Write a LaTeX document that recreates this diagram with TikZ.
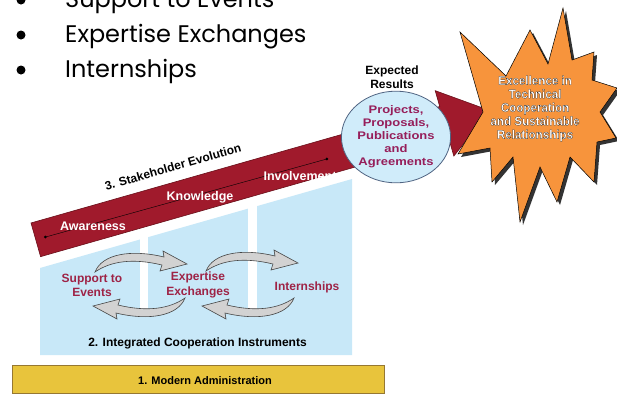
\documentclass[tikz,border=0pt]{standalone}
\usepackage{fontspec}
\setmainfont{Liberation Sans}
\newfontfamily\gothic{Poppins}
\usetikzlibrary{shapes.geometric}
\definecolor{bandred}{RGB}{160,26,44}
\definecolor{bandedge}{RGB}{105,15,25}
\definecolor{wine}{RGB}{158,35,70}
\definecolor{plum}{RGB}{150,30,90}
\definecolor{skyblue}{RGB}{200,232,248}
\definecolor{ellfill}{RGB}{208,236,250}
\definecolor{elledge}{RGB}{80,100,130}
\definecolor{goldbar}{RGB}{232,196,60}
\definecolor{goldedge}{RGB}{150,120,50}
\definecolor{starorange}{RGB}{247,148,60}
\newcommand{\outlinedtext}[1]{\special{pdf:literal direct 2 Tr 0.2 w 1 1 1 rg 0.1 0.1 0.1 RG}#1\special{pdf:literal direct 0 Tr}}
\begin{document}
\begin{tikzpicture}[x=1pt,y=-1pt,
  bandlbl/.style={text=white,font=\fontsize{12.5}{14}\selectfont\bfseries,inner sep=0},
  instlbl/.style={text=wine,font=\fontsize{12}{14.5}\selectfont\bfseries,align=center,inner sep=0},
  blacklbl/.style={text=black,font=\fontsize{12}{14}\selectfont\bfseries,inner sep=0},
  bullettext/.style={font=\gothic\fontsize{24}{27}\selectfont,anchor=base west,inner sep=0},
  bulletdot/.style={fill=black,circle,inner sep=0,minimum size=9pt},
  grayarrow/.style={fill=gray!35,draw=gray!55!black,line width=0.6pt},
  swoosh/.pic={\filldraw[grayarrow] (-46,14) .. controls (-39,-4) and (-10,-9) .. (23,-1) -- (22,-7) -- (46,6) -- (19,13) -- (21,7) .. controls (-8,0) and (-30,3) .. (-46,14) -- cycle;}
]
\clip (0,0) rectangle (617,394);
\fill[white] (0,0) rectangle (617,394);

% bullet list
\node[bulletdot] (b1) at (21,0) {};
\node[bullettext] (t1) at (65,7) {Support to Events};
\node[bulletdot] (b2) at (21,35) {};
\node[bullettext] (t2) at (65,42) {Expertise Exchanges};
\node[bulletdot] (b3) at (21,70) {};
\node[bullettext] (t3) at (65,77) {Internships};

% blue instruments area
\fill[skyblue] (40,268) -- (352,179) -- (352,355) -- (40,355) -- cycle;
\fill[white] (140,200) rectangle (148,316);
\fill[white] (248,180) rectangle (257,316);

% curved gray arrows
\pic at (141,258) {swoosh};
\pic at (252,257) {swoosh};
\pic[rotate=180] at (139,312) {swoosh};
\pic[rotate=180] at (248,312) {swoosh};

\node[instlbl] (ev) at (92,285.5) {Support to\\Events};
\node[instlbl] (ex) at (198,285) {Expertise\\Exchanges};
\node[instlbl] (in) at (307,287) {Internships};
\node[blacklbl] (ici) at (197.5,343) {2. Integrated Cooperation Instruments};

% modern administration
\filldraw[fill=goldbar,draw=goldedge,line width=0.8pt] (12,365) rectangle (384,393);
\node[blacklbl,font=\fontsize{11}{13}\selectfont\bfseries] (ma) at (205,381) {1. Modern Administration};

% stakeholder evolution band
\begin{scope}[shift={(35.8,239.8)},rotate=15.9]
\filldraw[fill=bandred,draw=bandedge,line width=0.6pt] (0,-17.5) -- (425,-17.5) -- (425,-34) -- (472,0) -- (425,34) -- (425,17.5) -- (0,17.5) -- cycle;
\coordinate (d1) at (10,0);
\coordinate (d2) at (302,2);
\end{scope}
\draw[line width=0.4pt,black] (d1) -- (d2);
\fill[black] (d1) circle (1.5pt);
\fill[black] (d2) circle (1.5pt);
\node[bandlbl] (aw) at (93,226) {Awareness};
\node[bandlbl] (kn) at (200,197) {Knowledge};
\node[bandlbl] (inv) at (300,176) {Involvement};
\node[blacklbl,rotate=15.9] (se) at (173,167) {3. Stakeholder Evolution};

% expected results
\node[blacklbl,align=center,font=\fontsize{12}{14}\selectfont\bfseries] (er) at (392,77) {Expected\\Results};
\node[ellipse,draw=elledge,fill=ellfill,line width=0.8pt,minimum width=104pt,minimum height=80pt,inner sep=0,text=plum,font=\fontsize{11}{13.2}\selectfont\bfseries,align=center] (res) at (396,137) {\scalebox{1.18}[1]{\begin{tabular}{@{}c@{}}Projects,\\[-0.3pt]Proposals,\\[-0.3pt]Publications\\[-0.3pt]and\\[-0.3pt]Agreements\end{tabular}}};

% star
\fill[black!80,shift={(3,3)}] (460,32) -- (506,76) -- (530,30) -- (548,64) -- (563,8) -- (572,60) -- (594,52) -- (592,80) -- (617,88) -- (600,112) -- (616,138) -- (597,142) -- (594,182) -- (570,157) -- (557,202) -- (540,167) -- (520,222) -- (513,157) -- (492,182) -- (490,148) -- (458,154) -- (483,112) -- cycle;
\filldraw[fill=starorange,draw=black,line width=0.5pt] (460,32) -- (506,76) -- (530,30) -- (548,64) -- (563,8) -- (572,60) -- (594,52) -- (592,80) -- (617,88) -- (600,112) -- (616,138) -- (597,142) -- (594,182) -- (570,157) -- (557,202) -- (540,167) -- (520,222) -- (513,157) -- (492,182) -- (490,148) -- (458,154) -- (483,112) -- cycle;
\node[text=white,font=\fontsize{12.5}{14}\selectfont\bfseries,inner sep=0] (exc) at (535,109) {\scalebox{0.93}[1]{\outlinedtext{\begin{tabular}{@{}c@{}}\bfseries Excellence in\\[-0.5pt]\bfseries Technical\\[-0.5pt]\bfseries Cooperation\\[-0.5pt]\bfseries and Sustainable\\[-0.5pt]\bfseries Relationships\end{tabular}}}};
\end{tikzpicture}
\end{document}
